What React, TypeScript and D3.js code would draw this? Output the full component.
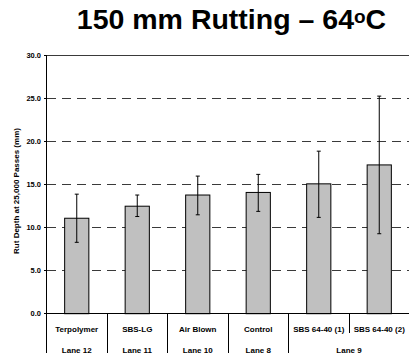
import React from "react";
import * as d3 from "d3";

// Rut depth after 25,000 passes, 150 mm specimens at 64°C
const binders = ["Terpolymer", "SBS-LG", "Air Blown", "Control", "SBS 64-40 (1)", "SBS 64-40 (2)"];
const lanes = ["Lane 12", "Lane 11", "Lane 10", "Lane 8", "Lane 9", "Lane 9"];
const rutDepth = [11.1, 12.5, 13.8, 14.1, 15.1, 17.3];
const errHigh = [13.9, 13.8, 16.0, 16.2, 18.9, 25.3];
const errLow = [8.3, 11.3, 11.5, 11.9, 11.2, 9.3];
const yTicks = [0, 5, 10, 15, 20, 25, 30];

const W = 409;
const H = 356;
const left = 46.5;
const right = 409.5;
const top = 55.7;
const bottom = 313.7;
const catBottom = 353;

export default function App() {
  const x = d3
    .scaleBand<number>()
    .domain(d3.range(binders.length))
    .range([left, right])
    .paddingInner(0.6)
    .paddingOuter(0.3);
  const y = d3.scaleLinear().domain([0, 30]).range([bottom, top]);
  const step = x.step();
  const bw = x.bandwidth();
  const boundary = (i: number) => left + i * step;

  // group consecutive categories sharing a lane
  const laneGroups: { name: string; start: number; end: number }[] = [];
  lanes.forEach((l, i) => {
    const g = laneGroups[laneGroups.length - 1];
    if (g && g.name === l) g.end = i;
    else laneGroups.push({ name: l, start: i, end: i });
  });

  const font = "'Liberation Sans', Arial, sans-serif";

  return (
    <svg
      width={W}
      height={H}
      style={{ position: "absolute", left: 0, top: 0, background: "#fff" }}
      fontFamily={font}
    >
      <text x={231.5} y={29} textAnchor="middle" fontSize={28.5} fontWeight="bold" fill="#000">
        150 mm Rutting – 64
        <tspan fontSize={19} dy={-6}>o</tspan>
        <tspan dy={6}>C</tspan>
      </text>

      {/* grid */}
      {yTicks.map((t) =>
        t === 0 ? null : (
          <line
            key={t}
            x1={left}
            x2={W}
            y1={y(t)}
            y2={y(t)}
            stroke="#3a3a3a"
            strokeWidth={1}
            strokeDasharray={t === 30 ? undefined : "9,6"}
            shapeRendering="crispEdges"
          />
        )
      )}

      {/* bars */}
      {rutDepth.map((v, i) => (
        <rect
          key={i}
          x={x(i)!}
          y={y(v)}
          width={bw}
          height={y(0) - y(v)}
          fill="#c0c0c0"
          stroke="#000"
          strokeWidth={1}
        />
      ))}

      {/* error bars */}
      {rutDepth.map((_, i) => {
        const cx = x(i)! + bw / 2;
        return (
          <g key={i} stroke="#000" strokeWidth={1}>
            <line x1={cx} x2={cx} y1={y(errHigh[i])} y2={y(errLow[i])} />
            <line x1={cx - 2} x2={cx + 2} y1={y(errHigh[i])} y2={y(errHigh[i])} />
            <line x1={cx - 2} x2={cx + 2} y1={y(errLow[i])} y2={y(errLow[i])} />
          </g>
        );
      })}

      {/* axes */}
      <line x1={left} x2={left} y1={top} y2={catBottom} stroke="#000" strokeWidth={1} shapeRendering="crispEdges" />
      <line x1={left} x2={W} y1={bottom} y2={bottom} stroke="#000" strokeWidth={1} shapeRendering="crispEdges" />
      {yTicks.map((t) => (
        <g key={t}>
          <line x1={left - 3} x2={left} y1={y(t)} y2={y(t)} stroke="#000" shapeRendering="crispEdges" />
          <text x={41} y={y(t)} dy="0.35em" textAnchor="end" fontSize={7.5} fontWeight="bold">
            {t.toFixed(1)}
          </text>
        </g>
      ))}
      <text
        transform={`translate(16,${191}) rotate(-90)`}
        textAnchor="middle"
        dy="0.35em"
        fontSize={8}
        fontWeight="bold"
      >
        Rut Depth at 25,000 Passes (mm)
      </text>

      {/* category labels, two levels */}
      {binders.map((b, i) => (
        <text
          key={b}
          x={x(i)! + bw / 2}
          y={329}
          dy="0.35em"
          textAnchor="middle"
          fontSize={8}
          fontWeight="bold"
        >
          {b}
        </text>
      ))}
      {binders.map((_, i) =>
        i === 0 ? null : (
          <line
            key={i}
            x1={boundary(i)}
            x2={boundary(i)}
            y1={bottom}
            y2={lanes[i] === lanes[i - 1] ? 333 : catBottom}
            stroke="#000"
            shapeRendering="crispEdges"
          />
        )
      )}
      {laneGroups.map((g) => (
        <text
          key={g.name}
          x={(boundary(g.start) + boundary(g.end + 1)) / 2}
          y={350}
          dy="0.35em"
          textAnchor="middle"
          fontSize={8}
          fontWeight="bold"
        >
          {g.name}
        </text>
      ))}
    </svg>
  );
}
